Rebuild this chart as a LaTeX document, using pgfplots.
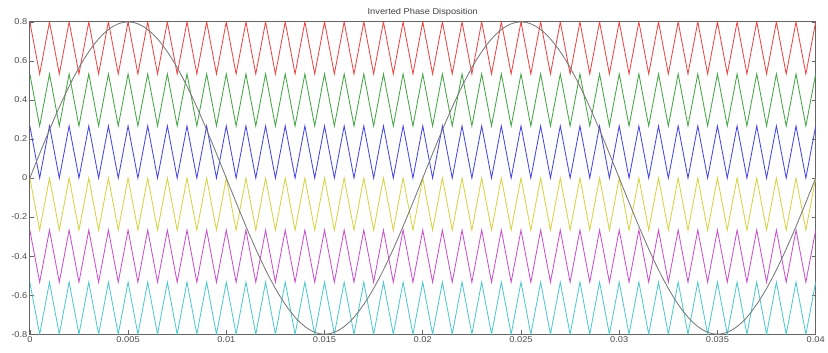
\documentclass[border=0pt]{standalone}
\usepackage{pgfplots}
\usepackage{pgfplotstable}
\pgfplotsset{compat=1.18}
\usepackage{fontspec}
\setmainfont{Liberation Sans}[FakeStretch=1.1]
\definecolor{cred}{RGB}{235,70,70}
\definecolor{cgreen}{RGB}{70,165,70}
\definecolor{cblue}{RGB}{70,70,225}
\definecolor{cyel}{RGB}{215,210,70}
\definecolor{cmag}{RGB}{200,80,205}
\definecolor{ccyan}{RGB}{80,200,205}
\definecolor{csine}{RGB}{120,120,120}
\definecolor{cframe}{RGB}{100,100,100}
\pgfplotstableread{
x r g b y m c
0 0.8 0.5333 0.2667 0 -0.2667 -0.5333
0.0005 0.5333 0.2667 0 -0.2667 -0.5333 -0.8
0.001 0.8 0.5333 0.2667 0 -0.2667 -0.5333
0.0015 0.5333 0.2667 0 -0.2667 -0.5333 -0.8
0.002 0.8 0.5333 0.2667 0 -0.2667 -0.5333
0.0025 0.5333 0.2667 0 -0.2667 -0.5333 -0.8
0.003 0.8 0.5333 0.2667 0 -0.2667 -0.5333
0.0035 0.5333 0.2667 0 -0.2667 -0.5333 -0.8
0.004 0.8 0.5333 0.2667 0 -0.2667 -0.5333
0.0045 0.5333 0.2667 0 -0.2667 -0.5333 -0.8
0.005 0.8 0.5333 0.2667 0 -0.2667 -0.5333
0.0055 0.5333 0.2667 0 -0.2667 -0.5333 -0.8
0.006 0.8 0.5333 0.2667 0 -0.2667 -0.5333
0.0065 0.5333 0.2667 0 -0.2667 -0.5333 -0.8
0.007 0.8 0.5333 0.2667 0 -0.2667 -0.5333
0.0075 0.5333 0.2667 0 -0.2667 -0.5333 -0.8
0.008 0.8 0.5333 0.2667 0 -0.2667 -0.5333
0.0085 0.5333 0.2667 0 -0.2667 -0.5333 -0.8
0.009 0.8 0.5333 0.2667 0 -0.2667 -0.5333
0.0095 0.5333 0.2667 0 -0.2667 -0.5333 -0.8
0.010 0.8 0.5333 0.2667 0 -0.2667 -0.5333
0.0105 0.5333 0.2667 0 -0.2667 -0.5333 -0.8
0.011 0.8 0.5333 0.2667 0 -0.2667 -0.5333
0.0115 0.5333 0.2667 0 -0.2667 -0.5333 -0.8
0.012 0.8 0.5333 0.2667 0 -0.2667 -0.5333
0.0125 0.5333 0.2667 0 -0.2667 -0.5333 -0.8
0.013 0.8 0.5333 0.2667 0 -0.2667 -0.5333
0.0135 0.5333 0.2667 0 -0.2667 -0.5333 -0.8
0.014 0.8 0.5333 0.2667 0 -0.2667 -0.5333
0.0145 0.5333 0.2667 0 -0.2667 -0.5333 -0.8
0.015 0.8 0.5333 0.2667 0 -0.2667 -0.5333
0.0155 0.5333 0.2667 0 -0.2667 -0.5333 -0.8
0.016 0.8 0.5333 0.2667 0 -0.2667 -0.5333
0.0165 0.5333 0.2667 0 -0.2667 -0.5333 -0.8
0.017 0.8 0.5333 0.2667 0 -0.2667 -0.5333
0.0175 0.5333 0.2667 0 -0.2667 -0.5333 -0.8
0.018 0.8 0.5333 0.2667 0 -0.2667 -0.5333
0.0185 0.5333 0.2667 0 -0.2667 -0.5333 -0.8
0.019 0.8 0.5333 0.2667 0 -0.2667 -0.5333
0.0195 0.5333 0.2667 0 -0.2667 -0.5333 -0.8
0.020 0.8 0.5333 0.2667 0 -0.2667 -0.5333
0.0205 0.5333 0.2667 0 -0.2667 -0.5333 -0.8
0.021 0.8 0.5333 0.2667 0 -0.2667 -0.5333
0.0215 0.5333 0.2667 0 -0.2667 -0.5333 -0.8
0.022 0.8 0.5333 0.2667 0 -0.2667 -0.5333
0.0225 0.5333 0.2667 0 -0.2667 -0.5333 -0.8
0.023 0.8 0.5333 0.2667 0 -0.2667 -0.5333
0.0235 0.5333 0.2667 0 -0.2667 -0.5333 -0.8
0.024 0.8 0.5333 0.2667 0 -0.2667 -0.5333
0.0245 0.5333 0.2667 0 -0.2667 -0.5333 -0.8
0.025 0.8 0.5333 0.2667 0 -0.2667 -0.5333
0.0255 0.5333 0.2667 0 -0.2667 -0.5333 -0.8
0.026 0.8 0.5333 0.2667 0 -0.2667 -0.5333
0.0265 0.5333 0.2667 0 -0.2667 -0.5333 -0.8
0.027 0.8 0.5333 0.2667 0 -0.2667 -0.5333
0.0275 0.5333 0.2667 0 -0.2667 -0.5333 -0.8
0.028 0.8 0.5333 0.2667 0 -0.2667 -0.5333
0.0285 0.5333 0.2667 0 -0.2667 -0.5333 -0.8
0.029 0.8 0.5333 0.2667 0 -0.2667 -0.5333
0.0295 0.5333 0.2667 0 -0.2667 -0.5333 -0.8
0.030 0.8 0.5333 0.2667 0 -0.2667 -0.5333
0.0305 0.5333 0.2667 0 -0.2667 -0.5333 -0.8
0.031 0.8 0.5333 0.2667 0 -0.2667 -0.5333
0.0315 0.5333 0.2667 0 -0.2667 -0.5333 -0.8
0.032 0.8 0.5333 0.2667 0 -0.2667 -0.5333
0.0325 0.5333 0.2667 0 -0.2667 -0.5333 -0.8
0.033 0.8 0.5333 0.2667 0 -0.2667 -0.5333
0.0335 0.5333 0.2667 0 -0.2667 -0.5333 -0.8
0.034 0.8 0.5333 0.2667 0 -0.2667 -0.5333
0.0345 0.5333 0.2667 0 -0.2667 -0.5333 -0.8
0.035 0.8 0.5333 0.2667 0 -0.2667 -0.5333
0.0355 0.5333 0.2667 0 -0.2667 -0.5333 -0.8
0.036 0.8 0.5333 0.2667 0 -0.2667 -0.5333
0.0365 0.5333 0.2667 0 -0.2667 -0.5333 -0.8
0.037 0.8 0.5333 0.2667 0 -0.2667 -0.5333
0.0375 0.5333 0.2667 0 -0.2667 -0.5333 -0.8
0.038 0.8 0.5333 0.2667 0 -0.2667 -0.5333
0.0385 0.5333 0.2667 0 -0.2667 -0.5333 -0.8
0.039 0.8 0.5333 0.2667 0 -0.2667 -0.5333
0.0395 0.5333 0.2667 0 -0.2667 -0.5333 -0.8
0.040 0.8 0.5333 0.2667 0 -0.2667 -0.5333
}\carriers
\begin{document}
\begin{tikzpicture}
\path (-30bp,-18bp) rectangle (798bp,336bp);
\begin{axis}[
  scale only axis,
  width=790bp, height=314bp,
  xmin=0, xmax=0.04, ymin=-0.8, ymax=0.8,
  scaled ticks=false,
  xtick={0,0.005,0.01,0.015,0.02,0.025,0.03,0.035,0.04},
  xticklabels={0,0.005,0.01,0.015,0.02,0.025,0.03,0.035,0.04},
  ytick={-0.8,-0.6,-0.4,-0.2,0,0.2,0.4,0.6,0.8},
  yticklabels={-0.8,-0.6,-0.4,-0.2,0,0.2,0.4,0.6,0.8},
  tick align=inside,
  major tick length=4bp,
  tick style={cframe, line width=0.6bp},
  axis line style={cframe, line width=0.8bp},
  ticklabel style={font=\fontsize{8.5}{9}\selectfont, text=black!70},
  xticklabel style={yshift=1bp},
  yticklabel style={xshift=1bp},
  title={Inverted Phase Disposition},
  title style={font=\fontsize{8.5}{9}\selectfont, text=black!75, yshift=-3.5bp},
  every axis plot/.append style={line width=0.85bp, mark=none},
  clip=true,
]
\addplot[cred] table[x=x,y=r] {\carriers};
\addplot[cgreen] table[x=x,y=g] {\carriers};
\addplot[cblue] table[x=x,y=b] {\carriers};
\addplot[cyel] table[x=x,y=y] {\carriers};
\addplot[cmag] table[x=x,y=m] {\carriers};
\addplot[ccyan] table[x=x,y=c] {\carriers};
\addplot[csine] coordinates {
(0,0) (0.00025,0.0628) (0.0005,0.1251) (0.00075,0.1868) (0.001,0.2472) (0.00125,0.3061) (0.0015,0.3632) (0.00175,0.4180) (0.002,0.4702) (0.00225,0.5196) (0.0025,0.5657) (0.00275,0.6083) (0.003,0.6472) (0.00325,0.6821) (0.0035,0.7128) (0.00375,0.7391) (0.004,0.7608) (0.00425,0.7779) (0.0045,0.7902) (0.00475,0.7975) (0.005,0.8)
(0.00525,0.7975) (0.0055,0.7902) (0.00575,0.7779) (0.006,0.7608) (0.00625,0.7391) (0.0065,0.7128) (0.00675,0.6821) (0.007,0.6472) (0.00725,0.6083) (0.0075,0.5657) (0.00775,0.5196) (0.008,0.4702) (0.00825,0.4180) (0.0085,0.3632) (0.00875,0.3061) (0.009,0.2472) (0.00925,0.1868) (0.0095,0.1251) (0.00975,0.0628) (0.01,0)
(0.01025,-0.0628) (0.0105,-0.1251) (0.01075,-0.1868) (0.011,-0.2472) (0.01125,-0.3061) (0.0115,-0.3632) (0.01175,-0.4180) (0.012,-0.4702) (0.01225,-0.5196) (0.0125,-0.5657) (0.01275,-0.6083) (0.013,-0.6472) (0.01325,-0.6821) (0.0135,-0.7128) (0.01375,-0.7391) (0.014,-0.7608) (0.01425,-0.7779) (0.0145,-0.7902) (0.01475,-0.7975) (0.015,-0.8)
(0.01525,-0.7975) (0.0155,-0.7902) (0.01575,-0.7779) (0.016,-0.7608) (0.01625,-0.7391) (0.0165,-0.7128) (0.01675,-0.6821) (0.017,-0.6472) (0.01725,-0.6083) (0.0175,-0.5657) (0.01775,-0.5196) (0.018,-0.4702) (0.01825,-0.4180) (0.0185,-0.3632) (0.01875,-0.3061) (0.019,-0.2472) (0.01925,-0.1868) (0.0195,-0.1251) (0.01975,-0.0628) (0.02,0)
(0.02025,0.0628) (0.0205,0.1251) (0.02075,0.1868) (0.021,0.2472) (0.02125,0.3061) (0.0215,0.3632) (0.02175,0.4180) (0.022,0.4702) (0.02225,0.5196) (0.0225,0.5657) (0.02275,0.6083) (0.023,0.6472) (0.02325,0.6821) (0.0235,0.7128) (0.02375,0.7391) (0.024,0.7608) (0.02425,0.7779) (0.0245,0.7902) (0.02475,0.7975) (0.025,0.8)
(0.02525,0.7975) (0.0255,0.7902) (0.02575,0.7779) (0.026,0.7608) (0.02625,0.7391) (0.0265,0.7128) (0.02675,0.6821) (0.027,0.6472) (0.02725,0.6083) (0.0275,0.5657) (0.02775,0.5196) (0.028,0.4702) (0.02825,0.4180) (0.0285,0.3632) (0.02875,0.3061) (0.029,0.2472) (0.02925,0.1868) (0.0295,0.1251) (0.02975,0.0628) (0.03,0)
(0.03025,-0.0628) (0.0305,-0.1251) (0.03075,-0.1868) (0.031,-0.2472) (0.03125,-0.3061) (0.0315,-0.3632) (0.03175,-0.4180) (0.032,-0.4702) (0.03225,-0.5196) (0.0325,-0.5657) (0.03275,-0.6083) (0.033,-0.6472) (0.03325,-0.6821) (0.0335,-0.7128) (0.03375,-0.7391) (0.034,-0.7608) (0.03425,-0.7779) (0.0345,-0.7902) (0.03475,-0.7975) (0.035,-0.8)
(0.03525,-0.7975) (0.0355,-0.7902) (0.03575,-0.7779) (0.036,-0.7608) (0.03625,-0.7391) (0.0365,-0.7128) (0.03675,-0.6821) (0.037,-0.6472) (0.03725,-0.6083) (0.0375,-0.5657) (0.03775,-0.5196) (0.038,-0.4702) (0.03825,-0.4180) (0.0385,-0.3632) (0.03875,-0.3061) (0.039,-0.2472) (0.03925,-0.1868) (0.0395,-0.1251) (0.03975,-0.0628) (0.04,0)
};
\end{axis}
\end{tikzpicture}
\end{document}
